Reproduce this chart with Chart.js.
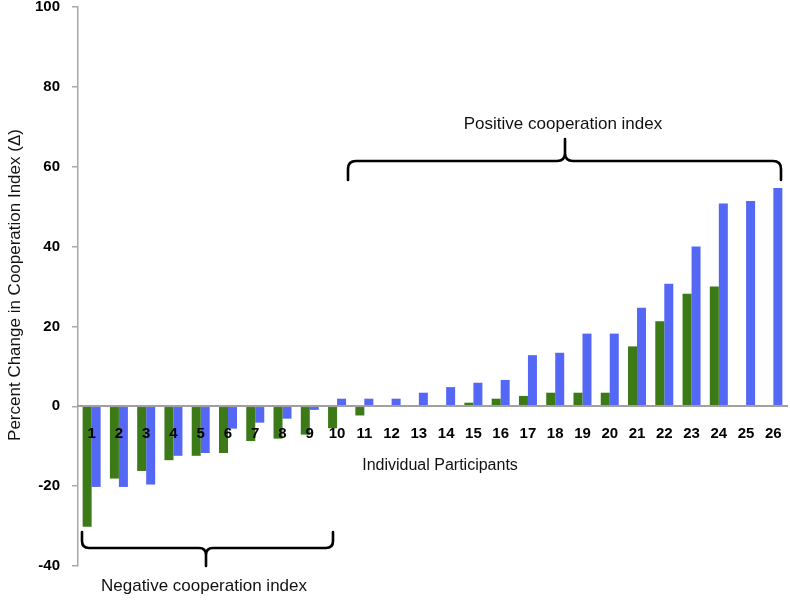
<!DOCTYPE html>
<html>
<head>
<meta charset="utf-8">
<script src="https://cdn.jsdelivr.net/npm/chart.js@4/dist/chart.umd.min.js"></script>
<style>
  html, body { margin: 0; padding: 0; background: #ffffff; }
  #wrap { width: 790px; height: 602px; position: relative; }
</style>
</head>
<body>
<div id="wrap"><canvas id="c" width="790" height="602"></canvas></div>
<script>
const categories = ['1','2','3','4','5','6','7','8','9','10','11','12','13','14','15','16','17','18','19','20','21','22','23','24','25','26'];
const greenValues = [-30.2, -18.1, -16.2, -13.5, -12.4, -11.7, -8.7, -8.1, -7.1, -5.5, -2.3, 0, 0, 0, 0.9, 1.9, 2.6, 3.4, 3.4, 3.4, 15.0, 21.3, 28.2, 30.0, 0, 0];
const blueValues = [-20.2, -20.2, -19.6, -12.4, -11.7, -5.6, -4.1, -3.1, -0.9, 1.9, 1.9, 1.9, 3.4, 4.8, 5.9, 6.6, 12.8, 13.4, 18.2, 18.2, 24.7, 30.7, 40.0, 50.8, 51.4, 54.7];
const yTicks = [-40, -20, 0, 20, 40, 60, 80, 100];

const FONT = '"Liberation Sans", Arial, sans-serif';

function drawBrace(ctx, x1, x2, yLine, yEnd, xTip, yTip, r) {
  const s = Math.sign(yEnd - yLine);
  ctx.beginPath();
  ctx.moveTo(x1, yEnd);
  ctx.lineTo(x1, yLine + s * r);
  ctx.quadraticCurveTo(x1, yLine, x1 + r, yLine);
  ctx.lineTo(xTip - r, yLine);
  ctx.quadraticCurveTo(xTip, yLine, xTip, yLine - s * r);
  ctx.lineTo(xTip, yTip);
  ctx.moveTo(xTip, yLine - s * r);
  ctx.quadraticCurveTo(xTip, yLine, xTip + r, yLine);
  ctx.lineTo(x2 - r, yLine);
  ctx.quadraticCurveTo(x2, yLine, x2, yLine + s * r);
  ctx.lineTo(x2, yEnd);
  ctx.stroke();
}

const annotations = {
  id: 'annotations',
  afterDraw(chart) {
    const ctx = chart.ctx;
    ctx.save();
    ctx.fillStyle = '#111';
    ctx.font = '17px ' + FONT;
    ctx.textAlign = 'center';
    ctx.textBaseline = 'middle';
    ctx.save();
    ctx.translate(15, 285);
    ctx.rotate(-Math.PI / 2);
    ctx.fillText('Percent Change in Cooperation Index (\u0394)', 0, 0);
    ctx.restore();
    ctx.font = '16px ' + FONT;
    ctx.fillText('Individual Participants', 440, 466);
    ctx.strokeStyle = '#000';
    ctx.lineWidth = 2.6;
    ctx.lineCap = 'round';
    drawBrace(ctx, 348, 781, 161, 180, 565, 139, 8);
    drawBrace(ctx, 82, 333, 548, 532, 206, 566, 7);
    ctx.font = '17px ' + FONT;
    ctx.fillStyle = '#111';
    ctx.fillText('Positive cooperation index', 563, 124);
    ctx.fillText('Negative cooperation index', 204, 586);
    ctx.restore();
  }
};

new Chart(document.getElementById('c'), {
  type: 'bar',
  data: {
    labels: categories,
    datasets: [
      { label: 'Green', data: greenValues, backgroundColor: '#3c7a18', borderWidth: 0 },
      { label: 'Blue', data: blueValues, backgroundColor: '#5468f5', borderWidth: 0 }
    ]
  },
  options: {
    responsive: false,
    animation: false,
    devicePixelRatio: 1,
    layout: { padding: { left: 0, right: 3, top: 7, bottom: 36 } },
    plugins: { legend: { display: false }, tooltip: { enabled: false } },
    datasets: { bar: { categoryPercentage: 0.66, barPercentage: 1.0 } },
    scales: {
      x: {
        position: { y: 0 },
        afterFit(scale) { scale.paddingLeft = 0; scale.paddingRight = 0; },
        grid: { display: false, drawTicks: false },
        border: { display: true, color: '#a0a0a0', width: 2, z: 1 },
        ticks: {
          z: 1,
          color: '#000',
          font: { family: FONT, size: 15, weight: 'bold' },
          padding: 19,
          maxRotation: 0,
          autoSkip: false
        }
      },
      y: {
        min: -40,
        max: 100,
        afterFit(scale) { scale.width = 78; scale.paddingTop = 0; scale.paddingBottom = 0; },
        afterBuildTicks(scale) { scale.ticks = yTicks.map(v => ({ value: v })); },
        grid: { display: true, drawOnChartArea: false, drawTicks: true, tickLength: 6, color: '#a8a8a8', lineWidth: 1.5 },
        border: { display: true, color: '#a8a8a8', width: 1.5 },
        ticks: {
          color: '#000',
          font: { family: FONT, size: 15, weight: 'bold' },
          padding: 12
        }
      }
    }
  },
  plugins: [annotations]
});
</script>
</body>
</html>
